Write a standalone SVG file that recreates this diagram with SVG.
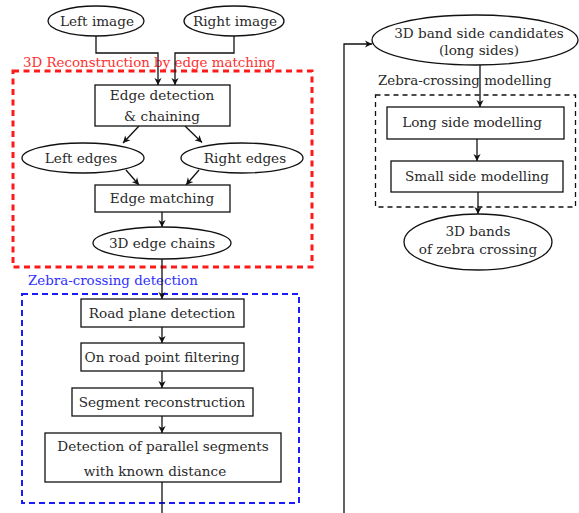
<svg xmlns="http://www.w3.org/2000/svg" width="579" height="513" viewBox="0 0 579 513">
<defs>
<marker id="arr" markerUnits="userSpaceOnUse" markerWidth="10" markerHeight="10" viewBox="-8 -5 10 10" refX="0" refY="0" orient="auto">
<path d="M0,0 L-7,-3.6 L-5,0 L-7,3.6 Z" fill="#111"/>
</marker>
</defs>
<style>
text{font-family:'DejaVu Serif',serif;font-size:13.6px;fill:#2a2a2a;text-anchor:middle}
.lbl{text-anchor:start;font-size:13.4px}
.n{fill:#fff;stroke:#111;stroke-width:1.3}
.c{fill:none;stroke:#111;stroke-width:1.3}
.a{marker-end:url(#arr)}
</style>
<rect width="579" height="513" fill="#fff"/>

<g id="groups">
<rect x="13" y="71" width="299" height="196" fill="none" stroke="#ff1a1a" stroke-width="3" stroke-dasharray="6 4.5"/>
<text class="lbl" x="23" y="67" style="fill:#ff3030">3D Reconstruction by edge matching</text>
<rect x="22" y="294" width="277" height="209" fill="none" stroke="#1a1aff" stroke-width="2" stroke-dasharray="6 4"/>
<text class="lbl" x="28" y="285" style="fill:#3030ff">Zebra-crossing detection</text>
<rect x="375.5" y="95" width="200" height="112" fill="none" stroke="#111" stroke-width="1.3" stroke-dasharray="5 4"/>
<text class="lbl" x="378" y="85">Zebra-crossing modelling</text>
</g>

<g id="connectors">
<path class="c a" d="M96,36 V53 H158 V85"/>
<path class="c a" d="M234,36 V53 H175 V85"/>
<path class="c a" d="M139,126 L123,143"/>
<path class="c a" d="M185,126 L202,142.5"/>
<path class="c a" d="M126,170 L139,185"/>
<path class="c a" d="M199,170 L186,185"/>
<path class="c a" d="M162,212 V227"/>
<path class="c a" d="M162,259 V299"/>
<path class="c a" d="M162,327 V343"/>
<path class="c a" d="M162,371 V388"/>
<path class="c a" d="M162,416 V433"/>
<path class="c a" d="M162,482 V525 H344 V44 H372"/>
<path class="c a" d="M480,65 V107"/>
<path class="c a" d="M477,139 V161"/>
<path class="c a" d="M478,192 V214"/>
</g>

<g id="left-image"><ellipse class="n" cx="96" cy="21" rx="48" ry="15"/><text x="97" y="26">Left image</text></g>
<g id="right-image"><ellipse class="n" cx="234" cy="21" rx="50" ry="15"/><text x="235" y="26">Right image</text></g>
<g id="edge-detection"><rect class="n" x="95" y="85" width="135" height="41"/><text x="162" y="100">Edge detection</text><text x="162" y="121">&amp; chaining</text></g>
<g id="left-edges"><ellipse class="n" cx="83" cy="158" rx="61" ry="15"/><text x="81" y="163">Left edges</text></g>
<g id="right-edges"><ellipse class="n" cx="242" cy="158" rx="61" ry="15"/><text x="245" y="163">Right edges</text></g>
<g id="edge-matching"><rect class="n" x="95" y="185" width="135" height="27"/><text x="162" y="203">Edge matching</text></g>
<g id="edge-chains"><ellipse class="n" cx="162" cy="243" rx="69" ry="16"/><text x="162" y="248">3D edge chains</text></g>
<g id="road-plane"><rect class="n" x="81" y="299" width="163" height="28"/><text x="162" y="318">Road plane detection</text></g>
<g id="on-road"><rect class="n" x="81" y="343" width="163" height="28"/><text x="162" y="362">On road point filtering</text></g>
<g id="segment"><rect class="n" x="72" y="388" width="181" height="28"/><text x="162" y="407">Segment reconstruction</text></g>
<g id="parallel"><rect class="n" x="45" y="433" width="236" height="49"/><text x="163" y="451">Detection of parallel segments</text><text x="155" y="476">with known distance</text></g>
<g id="candidates"><ellipse class="n" cx="475" cy="40" rx="103" ry="25"/><text x="479" y="38">3D band side candidates</text><text x="479" y="55">(long sides)</text></g>
<g id="long-side"><rect class="n" x="387" y="107" width="177" height="32"/><text x="472" y="127">Long side modelling</text></g>
<g id="small-side"><rect class="n" x="391" y="161" width="172" height="31"/><text x="477" y="181">Small side modelling</text></g>
<g id="bands"><ellipse class="n" cx="478" cy="242" rx="74" ry="28"/><text x="478" y="236">3D bands</text><text x="478" y="254">of zebra crossing</text></g>
</svg>
